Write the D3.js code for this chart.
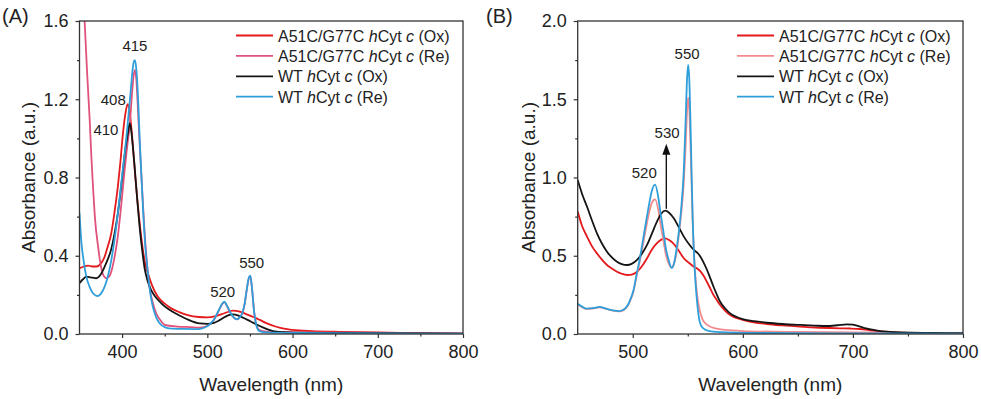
<!DOCTYPE html>
<html>
<head>
<meta charset="utf-8">
<script src="https://cdn.jsdelivr.net/npm/d3@7"></script>
<style>
body { margin: 0; background: #fff; }
svg { display: block; font-family: "Liberation Sans", Arial, sans-serif; }
.tick text { font-size: 18px; fill: #222; }
.tick line { stroke: #333; stroke-width: 1.2; }
.title { font-size: 19px; fill: #222; }
.legend text { font-size: 16px; fill: #222; }
.peak { font-size: 15px; fill: #222; }
</style>
</head>
<body>
<svg id="chart" width="981" height="399"></svg>
<script>
// series order: A51C/G77C Ox, A51C/G77C Re, WT Ox, WT Re
var names = ["A51C/G77C", "A51C/G77C", "WT", "WT"];
var states = ["Ox", "Re", "Ox", "Re"];

// panel A (350-800 nm), [wavelength, absorbance]
var redA = [[350,0.336],[355,0.345],[360,0.35],[365,0.345],[370,0.345],[375,0.36],[379.5,0.395],[383,0.445],[387.3,0.515],[391,0.62],[395,0.753],[398,0.88],[401,1.026],[404,1.13],[406.5,1.175],[408.8,1.137],[410.5,1.07],[412.7,0.958],[415.5,0.8],[418.6,0.651],[421.5,0.53],[424.4,0.43],[427,0.36],[430.3,0.31],[435,0.25],[442,0.19],[450,0.155],[457.6,0.131],[467,0.112],[477,0.097],[490,0.087],[500,0.085],[510,0.092],[520,0.106],[530,0.119],[538,0.114],[546,0.101],[554,0.087],[561.5,0.072],[570,0.054],[581,0.037],[590,0.027],[600,0.021],[623,0.015],[655,0.011],[700,0.008],[750,0.004],[800,0.002]];
var pinkA = [[350,2.2],[356,1.6],[359,1.33],[362,1.09],[364,0.9],[366,0.74],[368,0.6],[372,0.44],[375,0.35],[378,0.3],[381.5,0.285],[385,0.295],[388,0.33],[391,0.39],[395,0.5],[399,0.66],[403,0.84],[406,0.96],[409,1.07],[412,1.25],[414.7,1.35],[416.5,1.31],[418,1.2],[420,1.02],[422,0.86],[424,0.7],[426.4,0.52],[429,0.37],[432,0.245],[436,0.16],[440,0.106],[445,0.07],[450,0.047],[465,0.038],[480,0.035],[490,0.032],[497,0.036],[503,0.05],[508,0.074],[513,0.116],[517,0.15],[520,0.163],[523,0.143],[527,0.108],[531,0.084],[534.5,0.075],[538,0.085],[541.5,0.111],[544,0.158],[546.5,0.232],[549,0.288],[550.5,0.294],[552.5,0.228],[555,0.11],[557.5,0.047],[561,0.02],[570,0.012],[600,0.009],[700,0.006],[800,0.003]];
var blackA = [[350,0.26],[354,0.28],[358,0.293],[363,0.29],[369.7,0.285],[375,0.305],[379.5,0.344],[383,0.38],[387,0.43],[391,0.51],[395,0.617],[398,0.72],[401,0.838],[404,0.95],[406.8,1.026],[408.8,1.077],[410,1.06],[411.5,1.009],[413,0.94],[414.7,0.855],[417.5,0.7],[420.5,0.549],[423.5,0.43],[426.4,0.336],[430,0.27],[434,0.225],[440,0.185],[446,0.157],[455,0.125],[465,0.1],[478,0.072],[491,0.054],[500,0.052],[507,0.056],[515,0.072],[525,0.097],[530,0.1],[537,0.093],[546,0.075],[554,0.057],[561.5,0.041],[570,0.025],[577,0.015],[590,0.009],[600,0.007],[650,0.005],[700,0.004],[800,0.002]];
var blueA = [[350,0.62],[352,0.48],[355,0.37],[358,0.293],[362,0.24],[365.8,0.208],[369,0.197],[371.7,0.194],[375,0.205],[379.5,0.242],[383,0.29],[387.3,0.378],[391,0.48],[395,0.617],[399,0.77],[403,0.924],[406,1.05],[408.8,1.18],[411,1.29],[412.7,1.367],[414.7,1.4],[416,1.38],[417.4,1.315],[419,1.18],[420.5,1.01],[422.5,0.82],[424.4,0.651],[427,0.46],[430.3,0.31],[433,0.21],[436,0.14],[440,0.085],[444,0.055],[450,0.035],[455,0.029],[475,0.026],[490,0.025],[497,0.033],[503,0.05],[508,0.075],[513,0.118],[517,0.152],[520,0.166],[523,0.145],[527,0.11],[531,0.085],[534.5,0.075],[538,0.085],[541.5,0.112],[544,0.16],[546.5,0.235],[549,0.292],[550.5,0.298],[552.5,0.23],[555,0.11],[557.5,0.045],[561,0.015],[570,0.008],[600,0.005],[700,0.003],[800,0.002]];

// panel B (450-800 nm)
var redB = [[450,0.782],[454,0.69],[458.5,0.622],[463,0.56],[467.5,0.515],[472,0.475],[476.6,0.441],[481,0.418],[485.7,0.398],[490,0.385],[494.8,0.377],[499,0.38],[503.9,0.398],[508,0.43],[513,0.484],[517,0.535],[522,0.58],[526,0.603],[529.6,0.611],[533,0.6],[537.3,0.575],[542,0.53],[546.4,0.484],[551,0.455],[555.5,0.43],[558.5,0.418],[561.5,0.4],[564.5,0.37],[567.3,0.334],[570.5,0.29],[573.4,0.249],[576.5,0.215],[579.4,0.185],[584,0.148],[588.5,0.121],[594,0.102],[600.6,0.089],[610,0.075],[621.8,0.064],[636,0.055],[652,0.047],[670,0.04],[688,0.036],[698,0.035],[706.6,0.032],[715,0.024],[724.8,0.017],[735,0.012],[743,0.009],[770,0.006],[800,0.004]];
var pinkB = [[450,0.19],[454,0.172],[458,0.16],[464,0.163],[470,0.17],[475,0.162],[479,0.154],[483,0.148],[487,0.145],[490,0.148],[493,0.16],[495.5,0.18],[497.5,0.21],[500.6,0.27],[503.5,0.37],[506.6,0.47],[509.5,0.58],[512.7,0.7],[515,0.78],[517.2,0.835],[520.3,0.86],[523.3,0.79],[525.5,0.69],[527.8,0.6],[530,0.51],[532.4,0.455],[535.4,0.425],[537.5,0.45],[540,0.53],[542,0.64],[544,0.77],[546.4,0.97],[548,1.2],[549.4,1.43],[550.3,1.51],[551.3,1.45],[552.4,1.22],[553.5,0.95],[554.5,0.7],[555.8,0.5],[557,0.36],[558.5,0.25],[560,0.18],[563,0.1],[567,0.062],[575,0.036],[590,0.023],[600,0.019],[650,0.013],[700,0.01],[800,0.006]];
var blackB = [[450,0.984],[454,0.895],[458.5,0.813],[463,0.725],[467.5,0.643],[472,0.578],[476.6,0.526],[481,0.49],[485.7,0.462],[490,0.447],[494.8,0.441],[499,0.448],[503.9,0.473],[508,0.51],[513,0.569],[517,0.635],[522,0.718],[526,0.77],[529.6,0.788],[533,0.775],[537.3,0.739],[542,0.68],[546.4,0.622],[551,0.575],[555.5,0.537],[558.5,0.52],[561.5,0.494],[564.5,0.455],[567.5,0.409],[570.5,0.355],[573.4,0.302],[576.5,0.25],[579.4,0.206],[584,0.163],[588.5,0.132],[594,0.11],[600.6,0.094],[610,0.082],[621.8,0.072],[636,0.064],[652,0.058],[665,0.054],[676,0.051],[686,0.056],[694.5,0.062],[700,0.06],[706.6,0.047],[712,0.036],[718.8,0.026],[725,0.019],[730.9,0.015],[743,0.01],[770,0.007],[800,0.005]];
var blueB = [[450,0.194],[454,0.175],[458,0.162],[464,0.165],[470,0.173],[475,0.164],[479,0.156],[483,0.15],[487,0.146],[490,0.15],[493,0.162],[495.5,0.185],[497.5,0.215],[500.6,0.278],[503.5,0.38],[506.6,0.489],[509.5,0.61],[512.7,0.743],[515,0.835],[517.2,0.911],[520.3,0.954],[523.3,0.869],[525.5,0.76],[527.8,0.658],[530,0.55],[532.4,0.479],[535.4,0.422],[537.5,0.45],[540,0.553],[542,0.66],[544,0.8],[546.4,1.05],[548,1.36],[549.4,1.64],[550.3,1.719],[551.3,1.64],[552.4,1.367],[553.5,1.02],[554.5,0.728],[555.8,0.48],[557,0.33],[558.5,0.2],[560,0.11],[562.7,0.046],[567,0.024],[573,0.015],[600,0.007],[700,0.004],[800,0.003]];

// tick values
var xTicksA = [400, 500, 600, 700, 800];
var xMinorA = [450, 550, 650, 750];
var yTicksA = [0, 0.4, 0.8, 1.2, 1.6];
var yMinorA = [0.2, 0.6, 1.0, 1.4];
var xTicksB = [500, 600, 700, 800];
var xMinorB = [550, 650, 750];
var yTicksB = [0, 0.5, 1.0, 1.5, 2.0];
var yMinorB = [0.25, 0.75, 1.25, 1.75];

// peak labels [text, wavelength, absorbance]
var peaksA = [["415", 415, 1.476], ["408", 389.6, 1.199], ["410", 381, 1.045], ["520", 518, 0.215], ["550", 552, 0.366]];
var peaksB = [["550", 549.4, 1.79], ["530", 531.2, 1.284], ["520", 510.5, 1.03]];
var arrowB = [530.5, 0.8, 1.215];

var colorsA = ["#e3191c", "#e0527c", "#151515", "#2e9fda"];
var colorsB = ["#e3191c", "#f28a8e", "#151515", "#2e9fda"];

var svg = d3.select("#chart");
var plotTop = 21, plotBottom = 334;

function drawPanel(p) {
    var g = svg.append("g");
    var x = d3.scaleLinear().domain(p.xDomain).range([p.left, p.right]);
    var y = d3.scaleLinear().domain(p.yDomain).range([plotBottom, plotTop]);

    g.append("clipPath").attr("id", p.id + "clip")
        .append("rect")
        .attr("x", p.left).attr("y", plotTop)
        .attr("width", p.right - p.left).attr("height", plotBottom - plotTop);

    var line = d3.line()
        .x(function(d) { return x(d[0]); })
        .y(function(d) { return y(d[1]); })
        .curve(d3.curveMonotoneX);

    p.series.forEach(function(s, i) {
        g.append("path")
            .attr("clip-path", "url(#" + p.id + "clip)")
            .attr("d", line(s))
            .attr("fill", "none")
            .attr("stroke", p.colors[i])
            .attr("stroke-width", 1.8)
            .attr("stroke-linejoin", "round");
    });

    // frame
    g.append("rect")
        .attr("x", p.left).attr("y", plotTop)
        .attr("width", p.right - p.left).attr("height", plotBottom - plotTop)
        .attr("fill", "none").attr("stroke", "#333").attr("stroke-width", 1.3);

    // axes
    g.append("g").attr("transform", "translate(0," + plotBottom + ")")
        .call(d3.axisBottom(x).tickValues(p.xTicks).tickSize(4).tickPadding(7).tickFormat(d3.format("d")));
    g.append("g").attr("transform", "translate(0," + plotBottom + ")")
        .call(d3.axisBottom(x).tickValues(p.xMinor).tickSize(2.5).tickFormat(""));
    g.append("g").attr("transform", "translate(" + p.left + ",0)")
        .call(d3.axisLeft(y).tickValues(p.yTicks).tickSize(4).tickPadding(7).tickFormat(d3.format(".1f")));
    g.append("g").attr("transform", "translate(" + p.left + ",0)")
        .call(d3.axisLeft(y).tickValues(p.yMinor).tickSize(2.5).tickFormat(""));
    g.selectAll(".domain").remove();

    // titles
    g.append("text").attr("class", "title")
        .attr("x", (p.left + p.right) / 2).attr("y", 391)
        .attr("text-anchor", "middle")
        .text("Wavelength (nm)");
    g.append("text").attr("class", "title")
        .attr("transform", "translate(" + p.yTitleX + "," + ((plotTop + plotBottom) / 2) + ") rotate(-90)")
        .attr("text-anchor", "middle")
        .text("Absorbance (a.u.)");
    g.append("text").attr("class", "title")
        .style("font-size", "20px")
        .attr("x", p.tagX).attr("y", 23)
        .text(p.tag);

    // peak labels
    g.selectAll(".peak").data(p.peaks).enter().append("text")
        .attr("class", "peak")
        .attr("x", function(d) { return x(d[1]); })
        .attr("y", function(d) { return y(d[2]); })
        .attr("dy", "0.35em")
        .attr("text-anchor", "middle")
        .text(function(d) { return d[0]; });

    // legend
    var lg = g.append("g").attr("class", "legend");
    names.forEach(function(n, i) {
        var by = 41.5 + i * 20.4;
        lg.append("line")
            .attr("x1", p.legendX).attr("x2", p.legendX + 37)
            .attr("y1", by - 6).attr("y2", by - 6)
            .attr("stroke", p.colors[i]).attr("stroke-width", 1.8);
        var t = lg.append("text").attr("x", p.legendX + 42).attr("y", by);
        t.append("tspan").text(n + " ");
        t.append("tspan").style("font-style", "italic").text("h");
        t.append("tspan").text("Cyt ");
        t.append("tspan").style("font-style", "italic").text("c");
        t.append("tspan").text(" (" + states[i] + ")");
    });

    return {x: x, y: y, g: g};
}

var panelA = drawPanel({
    id: "a", left: 79.5, right: 463, xDomain: [350, 800], yDomain: [0, 1.6],
    series: [redA, pinkA, blackA, blueA], colors: colorsA,
    xTicks: xTicksA, xMinor: xMinorA, yTicks: yTicksA, yMinor: yMinorA,
    yTitleX: 35, tag: "(A)", tagX: 2, peaks: peaksA, legendX: 236
});

var panelB = drawPanel({
    id: "b", left: 577.7, right: 963, xDomain: [450, 800], yDomain: [0, 2.0],
    series: [redB, pinkB, blackB, blueB], colors: colorsB,
    xTicks: xTicksB, xMinor: xMinorB, yTicks: yTicksB, yMinor: yMinorB,
    yTitleX: 535, tag: "(B)", tagX: 486, peaks: peaksB, legendX: 737
});

// arrow at 530 nm
var ax = panelB.x(arrowB[0]);
var ay0 = panelB.y(arrowB[1]), ay1 = panelB.y(arrowB[2]);
panelB.g.append("line")
    .attr("x1", ax).attr("x2", ax)
    .attr("y1", ay0).attr("y2", ay1 + 8)
    .attr("stroke", "#111").attr("stroke-width", 1.4);
panelB.g.append("path")
    .attr("d", "M" + ax + "," + ay1 + "L" + (ax - 4) + "," + (ay1 + 11) + "L" + (ax + 4) + "," + (ay1 + 11) + "Z")
    .attr("fill", "#111");
</script>
</body>
</html>
